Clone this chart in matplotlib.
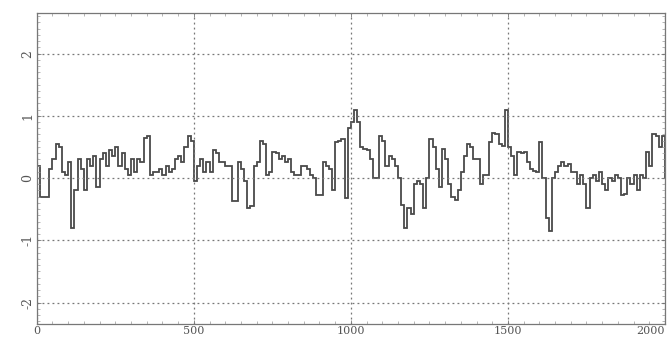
import numpy as np
import matplotlib
matplotlib.use("Agg")
import matplotlib.pyplot as plt
from matplotlib.ticker import MultipleLocator

# step signal, one value every 10 samples
step = 10
vals = [
    0.2, -0.3, -0.3, -0.3, 0.15, 0.3, 0.55, 0.5, 0.1, 0.05,
    0.25, -0.8, -0.2, 0.3, 0.15, -0.2, 0.3, 0.2, 0.35, -0.15,
    0.3, 0.4, 0.2, 0.45, 0.35, 0.5, 0.2, 0.4, 0.15, 0.05,
    0.3, 0.1, 0.3, 0.25, 0.65, 0.68, 0.05, 0.1, 0.1, 0.15,
    0.05, 0.2, 0.1, 0.15, 0.3, 0.35, 0.25, 0.5, 0.68, 0.6,
    -0.05, 0.2, 0.3, 0.1, 0.25, 0.1, 0.45, 0.4, 0.25, 0.25,
    0.2, 0.2, -0.37, -0.37, 0.25, 0.15, -0.05, -0.48, -0.45, 0.2,
    0.25, 0.6, 0.55, 0.05, 0.1, 0.42, 0.4, 0.3, 0.35, 0.25,
    0.3, 0.1, 0.05, 0.05, 0.2, 0.2, 0.15, 0.05, 0.0, -0.27,
    -0.27, 0.25, 0.2, 0.15, -0.2, 0.58, 0.6, 0.63, -0.32, 0.8,
    0.9, 1.1, 0.9, 0.5, 0.47, 0.45, 0.3, 0.0, 0.0, 0.68,
    0.6, 0.2, 0.36, 0.3, 0.2, 0.0, -0.43, -0.8, -0.48, -0.58,
    -0.1, -0.05, -0.1, -0.48, 0.0, 0.63, 0.5, 0.15, -0.15, 0.47,
    0.3, -0.1, -0.3, -0.35, -0.2, 0.1, 0.36, 0.55, 0.5, 0.3,
    0.3, -0.1, 0.05, 0.05, 0.58, 0.73, 0.7, 0.55, 0.52, 1.1,
    0.5, 0.36, 0.05, 0.42, 0.4, 0.42, 0.25, 0.15, 0.12, 0.1,
    0.58, 0.0, -0.64, -0.85, 0.0, 0.1, 0.2, 0.25, 0.2, 0.22,
    0.1, 0.1, -0.1, 0.05, -0.1, -0.48, 0.0, 0.05, -0.05, 0.1,
    -0.1, -0.2, 0.0, -0.05, 0.05, 0.0, -0.27, -0.25, 0.0, -0.1,
    0.05, -0.2, 0.05, 0.0, 0.42, 0.2, 0.7, 0.68, 0.5, 0.68,
]
xticks = [0, 500, 1000, 1500, 2000]
xlabels = ["0", "500", "1000", "1500", "2000"]
yticks = [-2, -1, 0, 1, 2]

edges = np.arange(len(vals) + 1) * step

fig = plt.figure(figsize=(6.69, 3.45), dpi=100)
ax = fig.add_axes([0.055, 0.06, 0.939, 0.902])

ax.stairs(vals, edges, color="#4a4a4a", lw=1.3)

ax.set_xlim(0, 2000)
ax.set_ylim(-2.35, 2.65)
ax.set_xticks(xticks)
ax.set_xticklabels(xlabels, fontsize=8, color="#555555", family="DejaVu Serif")
ax.get_xticklabels()[-1].set_ha("right")
ax.set_yticks(yticks)
ax.set_yticklabels([str(v) for v in yticks], fontsize=9, color="#555555",
                   family="DejaVu Serif", rotation=90, va="center")
ax.yaxis.set_minor_locator(MultipleLocator(0.1))
ax.xaxis.set_minor_locator(MultipleLocator(50))
ax.tick_params(direction="in", length=3, width=0.6, color="#777777",
               top=True, right=True, pad=2)
ax.tick_params(axis="x", pad=1)
ax.tick_params(which="minor", direction="in", length=2, width=0.5,
               color="#999999", top=True, right=True)

ax.grid(True, linestyle=(0, (1.5, 2.5)), color="#777777", linewidth=0.9)
for s in ax.spines.values():
    s.set_color("#777777")
    s.set_linewidth(0.9)

fig.savefig("out.png", dpi=100)
